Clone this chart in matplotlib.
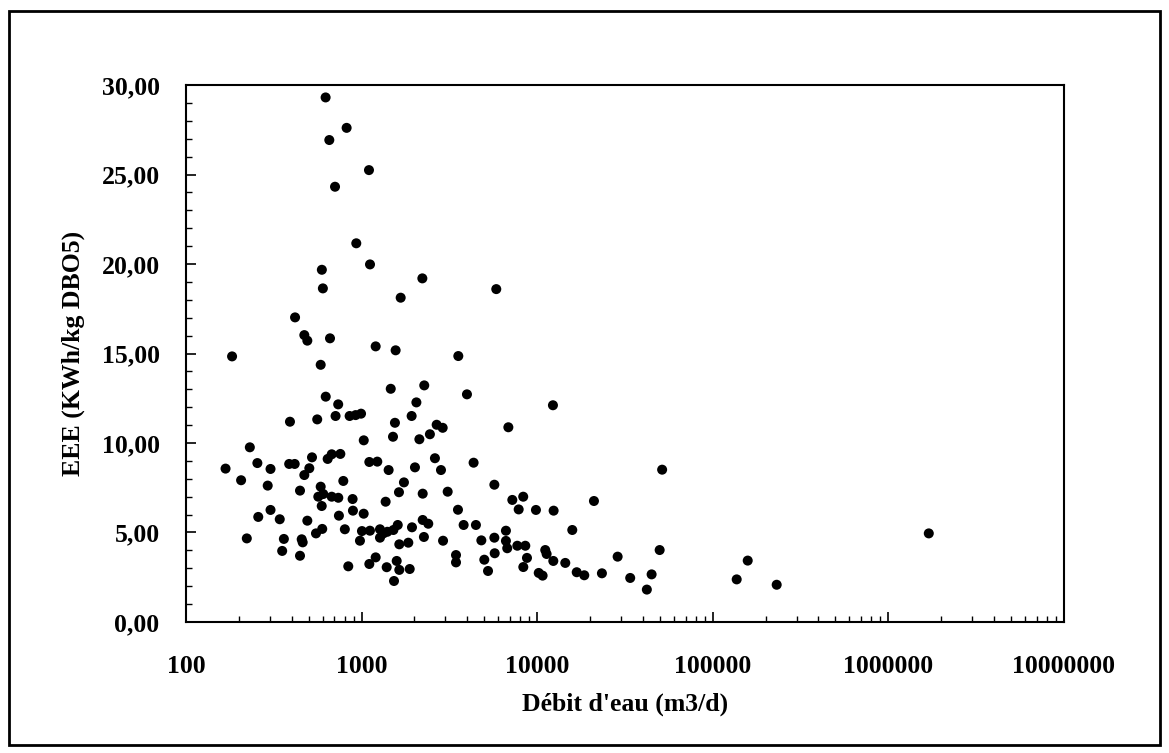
import matplotlib
matplotlib.use('Agg')
import matplotlib.pyplot as plt
from matplotlib.ticker import FixedLocator, LogLocator, MultipleLocator, FuncFormatter, NullFormatter
from matplotlib.patches import Rectangle

# débit d'eau (m3/d)
debit = [624, 822, 655, 1102, 706, 933, 594, 1117, 2219, 602, 1670, 418, 472, 491, 661,
         1203, 1563, 183, 5850, 3556, 585, 1466, 2275, 625, 736, 711, 391, 559, 855, 925,
         993, 1549, 2052, 1928, 1510, 1029, 2134, 2450, 2677, 2897, 231, 168, 255, 303,
         387, 416, 522, 641, 676, 757, 1107, 1229, 1426, 2014, 2617, 2833, 206, 292, 504,
         472, 446, 585, 567, 605, 676, 737, 787, 593, 889, 1371, 1743, 1633, 2229, 3093,
         258, 303, 342, 491, 743, 893, 1028, 2229, 2398, 1937, 222, 550, 597, 803, 361,
         456, 462, 979, 1005, 1116, 1273, 1331, 1402, 1518, 1607, 1273, 1640, 1846, 2265,
         2911, 353, 446, 1107, 1203, 840, 1390, 1585, 1640, 1880, 1530,
         3983, 12300, 6855, 4345, 51500, 5705, 7220, 8330, 7848, 9843, 12410, 21060, 3540,
         3813, 4480, 4810, 5705, 6640, 6640, 6755, 7710, 8560, 15850, 3450, 3450, 5000,
         5250, 5730, 8750, 8340, 11120, 11320, 12360, 14460, 10210, 10740, 16800, 18550,
         23380, 28730, 33880, 42140, 44860, 49850,
         158200, 136900, 231300, 1700000]

# EEE (KWh/kg DBO5)
eee = [29.31, 27.61, 26.93, 25.25, 24.32, 21.16, 19.68, 19.98, 19.20, 18.64, 18.12, 17.02,
       16.03, 15.72, 15.85, 15.40, 15.18, 14.84, 18.60, 14.86, 14.37, 13.03, 13.22, 12.59,
       12.16, 11.51, 11.19, 11.32, 11.51, 11.56, 11.64, 11.13, 12.27, 11.51, 10.35, 10.15,
       10.21, 10.49, 11.02, 10.85, 9.76, 8.57, 8.88, 8.55, 8.83, 8.83, 9.20, 9.11, 9.37,
       9.39, 8.94, 8.96, 8.49, 8.64, 9.15, 8.49, 7.92, 7.62, 8.59, 8.21, 7.34, 7.56, 7.00,
       7.15, 7.00, 6.94, 7.88, 6.48, 6.87, 6.72, 7.80, 7.25, 7.17, 7.28,
       5.87, 6.26, 5.74, 5.66, 5.94, 6.22, 6.05, 5.70, 5.49, 5.29, 4.67, 4.95, 5.20, 5.18,
       4.64, 4.62, 4.45, 4.54, 5.08, 5.10, 5.18, 4.95, 5.04, 5.14, 5.42, 4.71, 4.34, 4.43,
       4.75, 4.54, 3.97, 3.70, 3.24, 3.61, 3.11, 3.06, 3.41, 2.91, 2.96, 2.29,
       12.72, 12.11, 10.88, 8.90, 8.51, 7.67, 6.82, 7.00, 6.29, 6.26, 6.22, 6.76, 6.27,
       5.42, 5.42, 4.56, 4.71, 5.10, 4.53, 4.12, 4.26, 4.26, 5.14, 3.74, 3.33, 3.48,
       2.85, 3.84, 3.58, 3.07, 4.02, 3.80, 3.41, 3.30, 2.74, 2.59, 2.78, 2.61,
       2.72, 3.65, 2.46, 1.81, 2.66, 4.02,
       3.43, 2.38, 2.08, 4.95]

plt.rcParams['font.family'] = ['Liberation Serif', 'DejaVu Serif']
plt.rcParams['font.weight'] = 'bold'

fig = plt.figure(figsize=(11.69, 7.53), dpi=100)
ax = fig.add_axes([0.1591, 0.174, 0.751, 0.713])

ax.scatter(debit, eee, s=52, color='black', edgecolors='none', zorder=3)

ax.set_xscale('log')
ax.set_xlim(100, 1e7)
ax.set_ylim(0, 30)

ax.xaxis.set_major_locator(FixedLocator([1e2, 1e3, 1e4, 1e5, 1e6, 1e7]))
ax.xaxis.set_major_formatter(FuncFormatter(lambda v, p: '%d' % round(v)))
ax.xaxis.set_minor_locator(LogLocator(base=10, subs=range(2, 10), numticks=20))
ax.xaxis.set_minor_formatter(NullFormatter())

ax.yaxis.set_major_locator(MultipleLocator(5))
ax.yaxis.set_minor_locator(MultipleLocator(1))
ax.yaxis.set_major_formatter(FuncFormatter(lambda v, p: ('%.2f' % v).replace('.', ',')))

ax.tick_params(which='major', direction='in', length=7, width=1.2, labelsize=18.5)
ax.tick_params(which='minor', direction='in', length=4, width=1)
ax.tick_params(axis='x', which='major', pad=24)
ax.tick_params(axis='y', which='major', pad=19)

for s in ax.spines.values():
    s.set_linewidth(1.5)

ax.set_xlabel("Débit d'eau (m3/d)", fontsize=18.5, fontweight='bold', labelpad=10)
ax.set_ylabel('EEE (KWh/kg DBO5)', fontsize=18.5, fontweight='bold', labelpad=12)

# cadre autour de la figure
fig.patches.append(Rectangle((9 / 1169, 8 / 753), 1151 / 1169, 734 / 753,
                             transform=fig.transFigure, fill=False,
                             edgecolor='black', linewidth=2))

fig.savefig('out.png', dpi=100)
